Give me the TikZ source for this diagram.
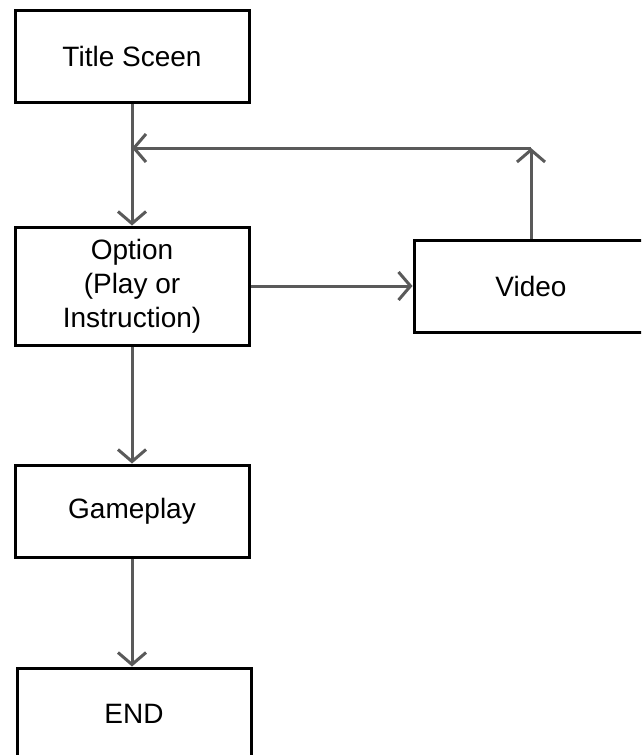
\documentclass[tikz,border=0pt]{standalone}
\usepackage{fontspec}
\setmainfont{Liberation Sans}
\usetikzlibrary{positioning,arrows.meta}
\definecolor{flowgray}{HTML}{5A5A5A}
\tikzset{
  screen/.style={draw=black,fill=white,line width=3pt,minimum width=234pt,minimum height=92pt,
    align=center,font=\fontsize{28}{34}\selectfont},
  flow/.style={draw=flowgray,line width=3pt}
}

\begin{document}
\begin{tikzpicture}[x=1pt,y=-1pt,>={Straight Barb[length=12pt,width=28pt,line width=3pt]}]
\clip (0,0) rectangle (641,755);
\fill[white] (0,0) rectangle (641,755);
%the screens of the game
\node [screen] (title) at (132,56) {Title Sceen};
\node [screen,minimum height=118pt,below=122pt of title] (option) {Option\\(Play or\\Instruction)};
\node [screen,right=162pt of option] (video) {Video};
\node [screen,below=117pt of option] (gameplay) {Gameplay};
\node [screen,below=108pt of gameplay,xshift=2pt] (end) {END};
%points for the way back from the video
\coordinate (corner) at (video.north |- 0,148);
\coordinate (join) at (title.south |- 0,148);
%drawings of lines between the screens
\draw[flow,->] (title.south) -- (option.north);

\draw[flow,->] (option.east) -- (video.west);

\draw[flow,->] (video.north) -- (corner);

\draw[flow,->] (corner) -- (join);

\draw[flow,->] (option.south) -- (gameplay.north);

\draw[flow,->] (gameplay.south) -- (gameplay.south |- end.north);

\end{tikzpicture}
\end{document}
